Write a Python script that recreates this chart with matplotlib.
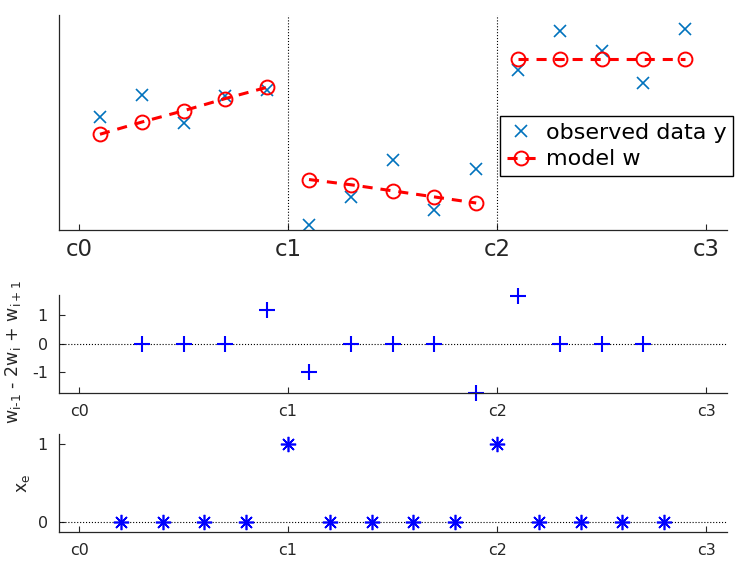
import numpy as np
import matplotlib
matplotlib.use('Agg')
import matplotlib.pyplot as plt

plt.rcParams['font.family'] = ['DejaVu Sans']
plt.rcParams['axes.unicode_minus'] = False

# segment boundaries and tick labels
tick_pos = [0, 1, 2, 3]
tick_labels = ['c0', 'c1', 'c2', 'c3']

# top panel: observed data and fitted piecewise model (one list per segment)
x_seg = [[0.1, 0.3, 0.5, 0.7, 0.9],
         [1.1, 1.3, 1.5, 1.7, 1.9],
         [2.1, 2.3, 2.5, 2.7, 2.9]]
y_obs = [[1.30, 1.55, 1.23, 1.54, 1.61],
         [0.06, 0.38, 0.80, 0.23, 0.70],
         [1.84, 2.29, 2.06, 1.69, 2.31]]
w_model = [[1.10, 1.24, 1.37, 1.51, 1.64],
           [0.58, 0.52, 0.45, 0.38, 0.31],
           [1.97, 1.97, 1.97, 1.97, 1.97]]

# middle panel: second differences
x_d2 = [0.3, 0.5, 0.7, 0.9, 1.1, 1.3, 1.5, 1.7, 1.9, 2.1, 2.3, 2.5, 2.7]
d2 = [0, 0, 0, 1.2, -1.0, 0, 0, 0, -1.74, 1.67, 0, 0, 0]

# bottom panel: edge indicators
x_e = [0.2, 0.4, 0.6, 0.8, 1.0, 1.2, 1.4, 1.6, 1.8, 2.0, 2.2, 2.4, 2.6, 2.8]
xe = [0, 0, 0, 0, 1, 0, 0, 0, 0, 1, 0, 0, 0, 0]

W, H = 741, 567
axcol = '#262626'


def rect(l, r, t, b):
    return [l / W, 1 - b / H, (r - l) / W, (b - t) / H]


def style(ax, fs, pad):
    for s in ['top', 'right']:
        ax.spines[s].set_visible(False)
    for s in ['left', 'bottom']:
        ax.spines[s].set_color(axcol)
        ax.spines[s].set_linewidth(0.9)
    ax.set_xlim(-0.096, 3.1)
    ax.set_xticks(tick_pos)
    ax.set_xticklabels(tick_labels)
    ax.tick_params(direction='in', length=4, width=0.8, colors=axcol,
                   labelsize=fs, pad=pad)


fig = plt.figure(figsize=(W / 100, H / 100), dpi=100)

ax1 = fig.add_axes(rect(59, 727, 15, 230))
style(ax1, 16.5, 6)
ax1.set_yticks([])
ax1.set_ylim(0, 2.47)
ax1.axvline(1, color='black', ls=':', lw=0.8)
ax1.axvline(2, color='black', ls=':', lw=0.8)
for i in range(3):
    h_obs, = ax1.plot(x_seg[i], y_obs[i], ls='none', marker='x', ms=9,
                      mew=1.2, color='#0072BD', label='observed data y')
for i in range(3):
    h_w, = ax1.plot(x_seg[i], w_model[i], ls='--', dashes=(3.3, 2.6),
                    lw=2.2, color='red', marker='o', ms=10, mfc='none',
                    mew=1.4, label='model w')

leg = fig.legend(handles=[h_obs, h_w], loc='upper left',
                 bbox_to_anchor=(500 / W, 1 - 116 / H), borderaxespad=0,
                 fontsize=16, handlelength=1.3, handletextpad=0.45,
                 labelspacing=0.3, borderpad=0.3, fancybox=False,
                 framealpha=1)
leg.get_frame().set_edgecolor('black')
leg.get_frame().set_linewidth(1.0)

ax2 = fig.add_axes(rect(59, 727, 295, 393))
style(ax2, 11.5, 8)
ax2.set_ylim(-1.74, 1.72)
ax2.set_yticks([-1, 0, 1])
ax2.axhline(0, color='black', ls=':', lw=0.8)
ax2.plot(x_d2, d2, ls='none', marker='+', ms=11, mew=1.5, color='#0000FF',
         clip_on=False)
ax2.set_ylabel(r'w$\mathregular{_{i\text{-}1}}$ - 2w$\mathregular{_i}$'
               r' + w$\mathregular{_{i+1}}$', fontsize=12.5, color=axcol)
ax2.yaxis.set_label_coords(-0.054, 0.42)

ax3 = fig.add_axes(rect(59, 727, 434, 532))
style(ax3, 11.5, 8)
ax3.set_ylim(-0.13, 1.13)
ax3.set_yticks([0, 1])
ax3.axhline(0, color='black', ls=':', lw=0.8)
ax3.plot(x_e, xe, ls='none', marker=(8, 2, 0), ms=11, mew=1.2,
         color='#0000FF', clip_on=False)
ax3.set_ylabel(r'x$\mathregular{_e}$', fontsize=12.5, color=axcol)
ax3.yaxis.set_label_coords(-0.04, 0.5)

fig.savefig('out.png', dpi=100)
plt.close(fig)
